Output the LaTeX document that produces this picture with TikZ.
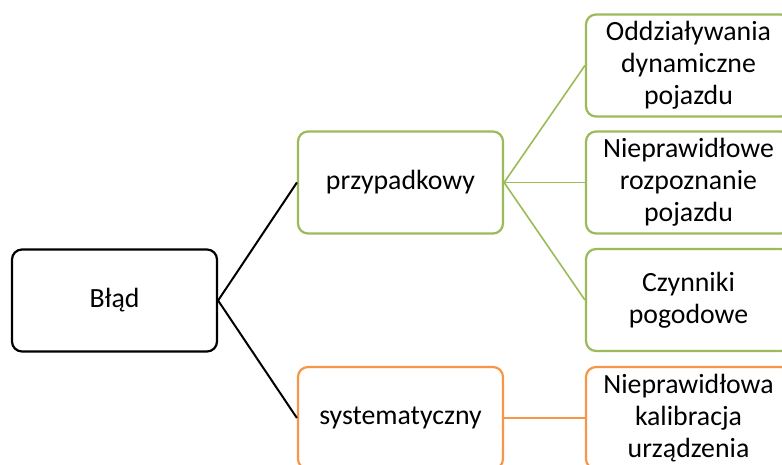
\documentclass[tikz,border=0pt]{standalone}
\usepackage{fontspec}
\setmainfont{Carlito}
\definecolor{grn}{HTML}{9BBB59}
\definecolor{org}{HTML}{F79646}
\begin{document}
\begin{tikzpicture}[x=1pt,y=-1pt,
  box/.style={draw, line width=2.2pt, rounded corners=10pt, minimum width=205pt, minimum height=102pt,
    align=center, inner sep=0pt, font=\fontsize{27.8}{32}\selectfont, fill=white},
  blk/.style={box, draw=black},
  gbox/.style={box, draw=grn},
  obox/.style={box, draw=org},
  bline/.style={line width=2pt, black},
  gline/.style={line width=1.6pt, grn},
  oline/.style={line width=1.6pt, org}]
\useasboundingbox (0,0) rectangle (782,464);
\clip (0,0) rectangle (782,464);
\node[blk] (b) at (114.5,300.5) {Błąd};
\node[gbox] (p) at (400.5,182.5) {przypadkowy};
\node[obox] (s) at (400.5,418) {systematyczny};
\node[gbox] (r1) at (688.5,65.5) {Oddziaływania\\dynamiczne\\pojazdu};
\node[gbox] (r2) at (688.5,182.5) {Nieprawidłowe\\rozpoznanie\\pojazdu};
\node[gbox] (r3) at (688.5,300) {Czynniki\\pogodowe};
\node[obox] (r4) at (688.5,418) {Nieprawidłowa\\kalibracja\\urządzenia};
\draw[bline] (b.east) -- (p.west);
\draw[bline] (b.east) -- (s.west);
\draw[gline] (p.east) -- (r1.west);
\draw[gline] (p.east) -- (r2.west);
\draw[gline] (p.east) -- (r3.west);
\draw[oline] (s.east) -- (r4.west);
\end{tikzpicture}
\end{document}
